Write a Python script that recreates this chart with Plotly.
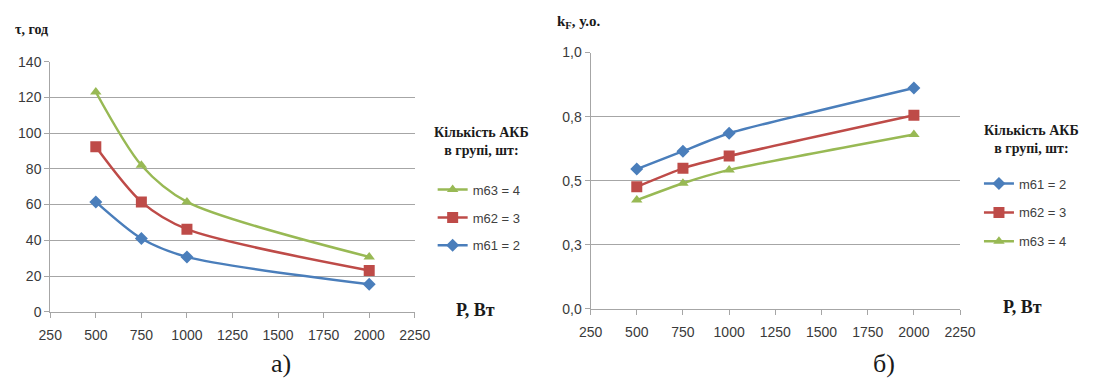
import plotly.graph_objects as go

power = [500, 750, 1000, 2000]

# chart a) operating time, hours
tau_m61 = [61.5, 41, 30.7, 15.4]
tau_m62 = [92.3, 61.5, 46.2, 23.1]
tau_m63 = [123, 82, 61.5, 30.7]

# chart б) coefficient
kf_m61 = [0.545, 0.615, 0.685, 0.862]
kf_m62 = [0.476, 0.548, 0.596, 0.755]
kf_m63 = [0.424, 0.490, 0.542, 0.680]

names = ["m61 = 2", "m62 = 3", "m63 = 4"]
x_ticks = [250, 500, 750, 1000, 1250, 1500, 1750, 2000, 2250]
y1_ticks = [0, 20, 40, 60, 80, 100, 120, 140]
y2_ticks = [0, 0.25, 0.5, 0.75, 1.0]
y2_text = ["0,0", "0,3", "0,5", "0,8", "1,0"]

colors = ["#4a7ebb", "#be4b48", "#98b954"]
symbols = ["diamond", "square", "triangle-up"]
msizes = [10, 11, 10]

W, H = 1094, 381
# layout helper: target picture pixel -> paper fraction (empirical capture calibration)
def px(x):
    return ((x - 9.5) / 0.981) / W
def py(y):
    return 1 - ((y - 8.8) / 0.95) / H

fig = go.Figure()

tau = [tau_m61, tau_m62, tau_m63]
kf = [kf_m61, kf_m62, kf_m63]

# left chart legend order: m63, m62, m61
for i in [2, 1, 0]:
    fig.add_trace(go.Scatter(
        x=power, y=tau[i], name=names[i], mode="lines+markers",
        line=dict(color=colors[i], width=2.5, shape="spline", smoothing=0.8),
        marker=dict(symbol=symbols[i], size=msizes[i], color=colors[i]),
        xaxis="x", yaxis="y", legend="legend", legendgroup="a" + str(i),
    ))
for i in [0, 1, 2]:
    fig.add_trace(go.Scatter(
        x=power, y=kf[i], name=names[i], mode="lines+markers",
        line=dict(color=colors[i], width=2.5, shape="spline", smoothing=0.5),
        marker=dict(symbol=symbols[i], size=msizes[i], color=colors[i]),
        xaxis="x2", yaxis="y2", legend="legend2", legendgroup="b" + str(i),
    ))

tickfont = dict(family="Liberation Sans, Arial", size=14, color="#3a3a3a")
axis_common = dict(
    showline=True, linecolor="#a6a6a6", linewidth=1,
    ticks="outside", ticklen=5, tickcolor="#a6a6a6",
    tickfont=tickfont, zeroline=False,
)

legfont = dict(family="Liberation Sans, Arial", size=13, color="#404040")
fig.update_layout(
    width=W, height=H, autosize=False,
    margin=dict(l=0, r=0, t=0, b=0),
    paper_bgcolor="white", plot_bgcolor="white",
    xaxis=dict(domain=[px(48), px(415)], range=[250, 2250], tickvals=x_ticks,
               showgrid=False, anchor="y", ticklabelstandoff=5, **axis_common),
    yaxis=dict(domain=[py(310), py(62)], range=[0, 140], tickvals=y1_ticks,
               showgrid=True, gridcolor="#a6a6a6", gridwidth=1, anchor="x", **axis_common),
    xaxis2=dict(domain=[px(592), px(964)], range=[250, 2250], tickvals=x_ticks,
                showgrid=False, anchor="y2", ticklabelstandoff=5, **axis_common),
    yaxis2=dict(domain=[py(307), py(53)], range=[0, 1.0], tickvals=y2_ticks, ticktext=y2_text,
                showgrid=True, gridcolor="#a6a6a6", gridwidth=1, anchor="x2", **axis_common),
    legend=dict(x=px(433), y=py(174), xanchor="left", yanchor="top",
                font=legfont, tracegroupgap=8, traceorder="grouped",
                bgcolor="rgba(0,0,0,0)", itemwidth=30),
    legend2=dict(x=px(983), y=py(168), xanchor="left", yanchor="top",
                 font=legfont, tracegroupgap=9, traceorder="grouped",
                 bgcolor="rgba(0,0,0,0)", itemwidth=30),
    showlegend=True,
)

serif_b = dict(family="Liberation Serif, DejaVu Serif", color="#1a1a1a")
ann = [
    dict(text="<b>τ, год</b>", x=px(11), y=py(30), xanchor="left", font=dict(size=14, **serif_b)),
    dict(text="<b>k<sub>F</sub>, у.о.</b>", x=px(556), y=py(23), xanchor="left", font=dict(size=15, **serif_b)),
    dict(text="<b>Кількість АКБ<br>в групі, шт:</b>", x=px(482), y=py(141), xanchor="center",
         font=dict(size=14, **serif_b)),
    dict(text="<b>Кількість АКБ<br>в групі, шт:</b>", x=px(1036), y=py(139), xanchor="center",
         font=dict(size=14, **serif_b)),
    dict(text="<b>Р, Вт</b>", x=px(476), y=py(308), xanchor="center", font=dict(size=18, **serif_b)),
    dict(text="<b>Р, Вт</b>", x=px(1027), y=py(305), xanchor="center", font=dict(size=18, **serif_b)),
    dict(text="а)", x=px(280), y=py(361), xanchor="center",
         font=dict(size=26, family="Liberation Serif, DejaVu Serif", color="#1a1a1a")),
    dict(text="б)", x=px(887), y=py(361), xanchor="center",
         font=dict(size=26, family="Liberation Serif, DejaVu Serif", color="#1a1a1a")),
]
for a in ann:
    a.update(xref="paper", yref="paper", yanchor="middle", showarrow=False)
fig.update_layout(annotations=ann)

fig.write_html(
    "out.html",
    config={"displayModeBar": False},
    post_script="document.body.style.margin='0';document.body.style.padding='0';document.body.style.overflow='hidden';",
)
